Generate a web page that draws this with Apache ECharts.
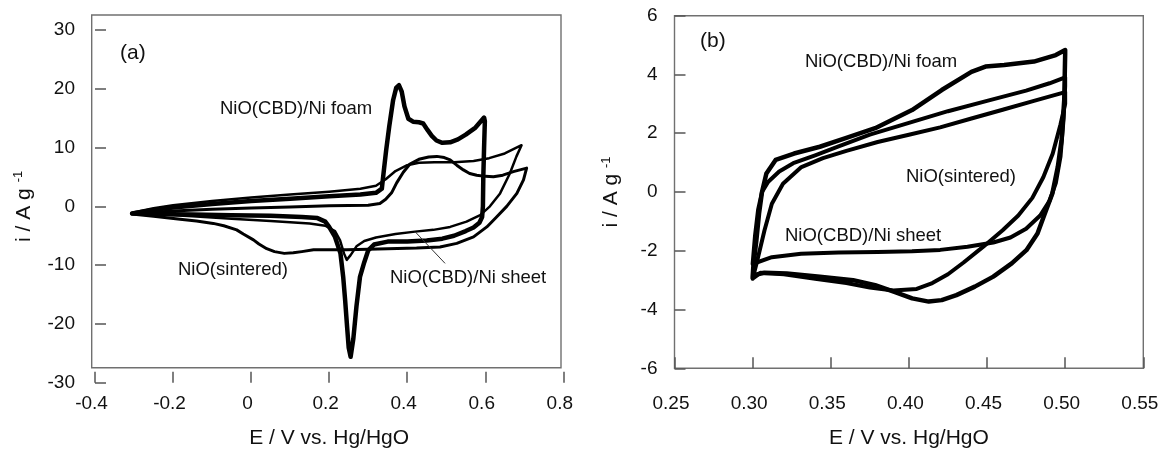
<!DOCTYPE html>
<html>
<head>
<meta charset="utf-8">
<script src="https://cdn.jsdelivr.net/npm/echarts@6/dist/echarts.min.js"></script>
<style>
  html, body { margin: 0; padding: 0; background: #fff; }
  #main { width: 1158px; height: 451px; }
</style>
</head>
<body>
<div id="main"></div>
<script>
// ---- panel (a) : CV curves, E / V vs i / A g-1 ----
const aFoam = [
  [-0.305,-1.2],[-0.25,-0.6],[-0.2,-0.2],[-0.1,0.4],[0,0.9],[0.1,1.3],[0.2,1.7],[0.28,2.0],[0.32,2.3],
  [0.335,3.0],[0.34,6],[0.346,9.5],[0.354,13.6],[0.364,18.1],[0.372,20.2],[0.379,20.6],[0.386,19.5],
  [0.393,17.0],[0.403,14.9],[0.415,14.4],[0.43,14.3],[0.441,14.1],[0.452,13.0],[0.463,12.0],[0.475,11.2],
  [0.49,10.8],[0.51,10.9],[0.53,11.4],[0.55,12.2],[0.575,13.4],[0.597,15.1],
  [0.599,14.5],[0.597,10],[0.595,5],[0.594,0],[0.592,-1.8],[0.585,-2.8],[0.57,-3.6],[0.55,-4.2],
  [0.52,-5.0],[0.49,-5.5],[0.45,-5.8],[0.4,-6.0],[0.35,-6.0],[0.315,-6.5],[0.3,-7.5],[0.29,-9.5],
  [0.279,-12],[0.27,-17],[0.262,-22.5],[0.255,-25.6],[0.25,-24],[0.246,-20.5],[0.241,-16],[0.236,-12],
  [0.229,-8],[0.215,-5.2],[0.2,-3.5],[0.19,-2.6],[0.17,-2.0],[0.13,-1.8],[0.05,-1.6],[-0.05,-1.5],
  [-0.15,-1.4],[-0.25,-1.3],[-0.305,-1.2]
];
const aSheet = [
  [-0.305,-1.1],[-0.25,-0.3],[-0.2,0.2],[-0.1,0.9],[0,1.5],[0.1,2.0],[0.2,2.5],[0.28,3.0],[0.32,3.5],
  [0.345,4.6],[0.37,6.0],[0.4,7.0],[0.43,7.4],[0.47,7.5],[0.52,7.5],[0.57,7.7],[0.61,8.2],[0.65,9.0],
  [0.693,10.4],
  [0.68,8.5],[0.663,5.6],[0.638,2.2],[0.612,0],[0.587,-1.5],[0.552,-2.6],[0.51,-3.5],[0.467,-4.0],
  [0.42,-4.3],[0.37,-4.7],[0.32,-5.3],[0.29,-5.9],[0.27,-6.8],[0.255,-8.3],[0.245,-9.1],[0.238,-8],
  [0.228,-5.8],[0.215,-4.2],[0.19,-3.3],[0.15,-2.9],[0.05,-2.5],[-0.05,-2.1],[-0.15,-1.7],[-0.25,-1.3],
  [-0.305,-1.1]
];
const aSintered = [
  [-0.306,-1.3],[-0.25,-1.0],[-0.2,-0.8],[-0.1,-0.5],[0,-0.3],[0.1,-0.1],[0.2,0.1],[0.3,0.2],[0.33,0.5],
  [0.345,1.2],[0.36,2.3],[0.373,4.0],[0.39,5.8],[0.407,7.2],[0.43,8.0],[0.455,8.4],[0.476,8.5],
  [0.495,8.3],[0.51,7.9],[0.527,7.0],[0.544,6.2],[0.56,5.6],[0.578,5.3],[0.6,5.1],[0.621,5.05],
  [0.645,5.3],[0.672,5.9],[0.706,6.5],
  [0.698,4.5],[0.681,2.2],[0.655,0],[0.629,-1.8],[0.604,-3.5],[0.57,-5.2],[0.527,-6.3],[0.484,-6.9],
  [0.424,-7.1],[0.35,-7.2],[0.3,-7.3],[0.245,-7.4],[0.2,-7.4],[0.16,-7.4],[0.13,-7.7],[0.108,-7.9],
  [0.085,-8.0],[0.06,-7.7],[0.04,-7.2],[0.02,-6.4],[0.006,-5.7],[-0.02,-4.7],[-0.037,-4.0],[-0.07,-3.3],
  [-0.097,-2.9],[-0.14,-2.5],[-0.182,-2.2],[-0.25,-1.7],[-0.306,-1.3]
];
const aLeader = [[0.42,-4.3],[0.497,-9.7]];

// ---- panel (b) ----
const bFoam = [
  [0.3,-2.9],[0.3005,-2.5],[0.3024,-1.64],[0.3041,-0.73],[0.306,0.0],[0.3088,0.63],[0.3147,1.09],
  [0.3265,1.31],[0.343,1.54],[0.3595,1.83],[0.3784,2.17],[0.402,2.79],[0.421,3.47],[0.44,4.09],
  [0.449,4.27],[0.461,4.32],[0.48,4.44],[0.494,4.66],[0.5,4.83],
  [0.5,4.7],[0.4994,3.13],[0.4977,1.77],[0.4953,0.86],[0.4918,-0.05],[0.487,-0.73],[0.4823,-1.41],
  [0.4752,-1.98],[0.4658,-2.43],[0.454,-2.88],[0.4422,-3.22],[0.4304,-3.51],[0.421,-3.68],[0.4127,-3.73],
  [0.4021,-3.62],[0.3903,-3.39],[0.3784,-3.17],[0.3643,-3.0],[0.343,-2.88],[0.3218,-2.77],[0.3076,-2.75],
  [0.3005,-2.83],[0.3,-2.9]
];
const bSheet = [
  [0.3,-2.45],[0.3015,-1.5],[0.3035,-0.6],[0.306,0.0],[0.31,0.35],[0.317,0.7],[0.326,0.98],[0.34,1.25],
  [0.355,1.55],[0.375,1.95],[0.4,2.35],[0.425,2.75],[0.45,3.1],[0.475,3.45],[0.49,3.7],[0.5,3.9],
  [0.5,3.6],[0.499,2.5],[0.497,1.2],[0.494,0.3],[0.49,-0.3],[0.484,-0.8],[0.475,-1.25],[0.465,-1.55],
  [0.454,-1.72],[0.4375,-1.86],[0.42,-1.97],[0.402,-2.02],[0.38,-2.04],[0.355,-2.06],[0.331,-2.1],
  [0.3123,-2.22],[0.3,-2.45]
];
const bSintered = [
  [0.3,-2.95],[0.3029,-2.35],[0.3076,-1.3],[0.3123,-0.4],[0.3194,0.28],[0.3312,0.85],[0.345,1.15],
  [0.36,1.4],[0.38,1.7],[0.4,1.95],[0.42,2.2],[0.44,2.5],[0.46,2.8],[0.48,3.1],[0.5,3.4],
  [0.5,3.0],[0.497,2.3],[0.492,1.3],[0.486,0.5],[0.479,-0.2],[0.47,-0.8],[0.46,-1.3],[0.4476,-1.86],
  [0.435,-2.4],[0.425,-2.8],[0.415,-3.1],[0.405,-3.3],[0.39,-3.35],[0.375,-3.25],[0.36,-3.1],
  [0.34,-2.95],[0.32,-2.8],[0.305,-2.75],[0.3,-2.95]
];

// axis ranges  [min, max, step]
const aAxisE = [-0.4, 0.8, 0.2];
const aAxisI = [-30, 30, 10];
const bAxisE = [0.25, 0.55, 0.05];
const bAxisI = [-6, 6, 2];

const FONT = "'Liberation Sans', Arial, Helvetica, sans-serif";
const INK = '#111';
const TICK = { inside: true, length: 11, lineStyle: { color: '#555', width: 1.5 } };

const yName = '{n|i / A g }{s|-1}';
const yNameStyle = {
  fontSize: 21, color: INK, fontFamily: FONT,
  rich: {
    n: { fontSize: 21, color: INK, fontFamily: FONT, lineHeight: 24 },
    s: { fontSize: 13, color: INK, fontFamily: FONT, verticalAlign: 'top' }
  }
};

const xAxisBase = (grid, r, gap, margin, fmt) => ({
  type: 'value', gridIndex: grid, min: r[0], max: r[1], interval: r[2],
  axisLine: { show: false, onZero: false }, axisTick: TICK, splitLine: { show: false },
  axisLabel: { fontSize: 19, color: INK, fontFamily: FONT, margin: margin, formatter: fmt,
               padding: [0, 7, 0, 0] },
  name: 'E / V vs. Hg/HgO', nameLocation: 'middle', nameGap: gap,
  nameTextStyle: { fontSize: 21, color: INK, fontFamily: FONT }
});
const yAxisBase = (grid, r, gap, margin) => ({
  type: 'value', gridIndex: grid, min: r[0], max: r[1], interval: r[2],
  axisLine: { show: false, onZero: false }, axisTick: TICK, splitLine: { show: false },
  axisLabel: { fontSize: 19, color: INK, fontFamily: FONT, margin: margin },
  name: yName, nameLocation: 'middle', nameGap: gap, nameTextStyle: yNameStyle
});

const curve = (data, xi, width) => ({
  type: 'line', xAxisIndex: xi, yAxisIndex: xi, data: data,
  symbol: 'none', showSymbol: false, silent: true, animation: false,
  lineStyle: { color: '#000', width: width, join: 'round', cap: 'round' }
});

const label = (x, y, text, size) => ({
  type: 'text', x: x, y: y, silent: true,
  style: { text: text, fontSize: size, fontFamily: FONT, fill: INK, align: 'left', verticalAlign: 'middle' }
});

const chart = echarts.init(document.getElementById('main'), null, { renderer: 'canvas' });
chart.setOption({
  backgroundColor: '#fff',
  animation: false,
  grid: [
    { left: 95, top: 30, width: 468.3, height: 352.7, containLabel: false, outerBoundsMode: 'none' },
    { left: 91.7, top: 15, width: 469.3, height: 352.7, show: true, borderColor: '#707070', borderWidth: 1.4,
      backgroundColor: 'transparent', containLabel: false, outerBoundsMode: 'none' },
    { left: 674.5, top: 15.7, width: 468.8, height: 352.6, show: true, borderColor: '#707070', borderWidth: 1.4,
      backgroundColor: 'transparent', containLabel: false, outerBoundsMode: 'none' }
  ],
  xAxis: [
    xAxisBase(0, aAxisE, 45, 12),
    { type: 'value', gridIndex: 1, show: false, min: 0, max: 1 },
    xAxisBase(2, bAxisE, 59, 26, v => v.toFixed(2))
  ],
  yAxis: [
    yAxisBase(0, aAxisI, 59, 20),
    { type: 'value', gridIndex: 1, show: false, min: 0, max: 1 },
    yAxisBase(2, bAxisI, 51, 17)
  ],
  series: [
    curve(aSheet, 0, 2.5),
    curve(aSintered, 0, 3),
    curve(aFoam, 0, 4.5),
    { type: 'line', xAxisIndex: 0, yAxisIndex: 0, data: aLeader, symbol: 'none', silent: true,
      animation: false, lineStyle: { color: '#333', width: 1 } },
    curve(bSheet, 2, 4),
    curve(bSintered, 2, 4),
    curve(bFoam, 2, 4.5)
  ],
  graphic: [
    label(120, 53, '(a)', 21),
    label(220, 109, 'NiO(CBD)/Ni foam', 18.5),
    label(178, 270, 'NiO(sintered)', 18.5),
    label(390, 278, 'NiO(CBD)/Ni sheet', 18.5),
    label(700, 41, '(b)', 21),
    label(805, 62, 'NiO(CBD)/Ni foam', 18.5),
    label(906, 177, 'NiO(sintered)', 18.5),
    label(785, 236, 'NiO(CBD)/Ni sheet', 18.5)
  ]
});
</script>
</body>
</html>
